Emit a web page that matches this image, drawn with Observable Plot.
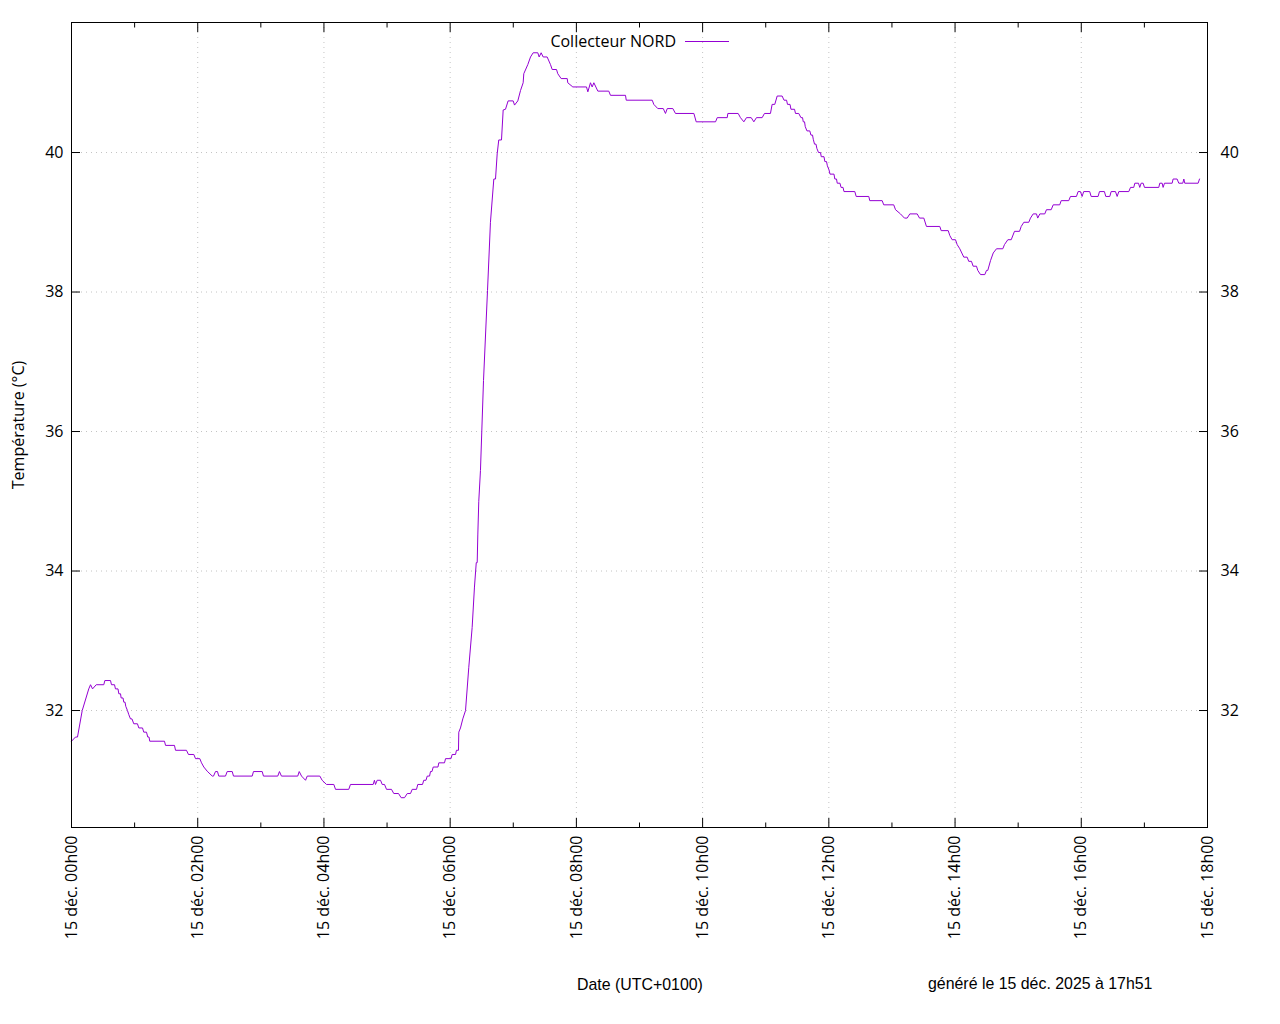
<!DOCTYPE html>
<html>
<head>
<meta charset="utf-8">
<script src="https://cdn.jsdelivr.net/npm/d3@7"></script>
<script src="https://cdn.jsdelivr.net/npm/@observablehq/plot@0.6"></script>
<style>
  html, body { margin: 0; padding: 0; background: white; }
  #wrap { position: relative; width: 1280px; height: 1024px; }
  .txt { position: absolute; white-space: nowrap; color: #000; }
  .foot { font-family: "Liberation Sans", Arial, sans-serif; font-size: 15.9px; }
  .leg { font-family: "Open Sans", sans-serif; font-size: 16px; }
</style>
</head>
<body>
<div id="wrap"></div>
<script>
// Time in minutes since 15 déc. 00h00 (UTC+0100)
const minutes = [
  0, 3.8, 5.7, 10.2, 16.4, 18.1, 20, 23.5, 30.7, 31.7,
  37.1, 38, 40.9, 41.8, 44.2, 45, 46.6, 47.2, 49, 49.7, 50.9, 51.6, 53.2, 54.5, 56.1, 57.5, 59.2, 62.7, 64, 67.5, 68.7, 71.3, 72.5, 73.7, 74.4,
  88.4, 89.4, 97.9, 98.9, 109.3, 111.2, 116.3, 117.9, 122, 123.6, 125.8, 129, 133.8, 135, 136.9, 138.8, 140, 146.4,
  148, 152.8, 154, 171.8, 173, 181.3, 182.5, 196.1, 197.7, 199.6, 215.1, 216.5, 218.7, 222.5, 224.1, 236.1, 238.3, 242.4, 249.4, 251,
  263.6, 265.2, 286.8, 288, 289, 290.6, 293.8,
  295.4, 297.6, 299.5, 304.2, 306.4, 310.9, 313.4, 316.6, 319.2, 322.3, 323.9, 328, 329.2, 333.7, 334.9, 337, 338.2, 340.4, 341.3, 342.7,
  343.9, 348.4, 349.2, 354.6, 355.6, 360.8, 361.9, 365.1, 366, 367.9,
  368.2, 369.8, 372, 374.6, 377.7, 380.9, 383.1, 384.8, 385.7, 386.3, 387.2, 388.8, 391.7, 395.5, 398.3, 401.5,
  403.1, 404.7, 406.2, 408.8, 410.4, 412.6, 415.1, 419.9, 421.2, 424.3, 426.9, 429.4, 430, 433.8, 436.4, 438.9, 443.3, 444.6, 446.5, 448.4,
  452.2, 455.4, 457, 461.1, 462.3, 465.5, 471.3, 471.8, 476.6, 489.6, 490.9, 493.4, 495, 496.6, 500.4, 510.8, 512.4, 526.7, 527.4, 552.1,
  553.6, 557.4, 562.6, 564.7, 566.4, 571.7, 574.2, 591.7, 593.9, 612.3, 613.9, 623.4, 624, 633.8, 636, 639.2, 641.7, 646.2, 648.7, 651.2,
  656.6, 658.8, 664.5, 666.1, 668.6, 670.9,
  675.6, 677.4, 679.8, 680.7, 683.1, 684, 687.4, 688.3,
  691.4, 693.5, 695, 695.7, 696.9, 697.6, 699.2, 701.9, 703, 704.5, 705.2, 706.4, 707.8, 708.6, 710.2, 712.1, 712.8, 715.4, 716.2, 717.8,
  718.6, 720.2, 721.1, 724.9, 725.7, 727.3, 728, 730.6, 731.6, 733.5, 734.4,
  744.7, 746, 758, 758.9, 770.7, 772.2, 781.7, 783.4, 788.1, 791.9, 794.5, 797, 804, 806.2, 810.3, 812.8, 825.5,
  826.8, 833.5, 835, 837.2, 840.4, 842, 844.5, 848.3, 851.5, 853, 855.6, 857.2, 860.4, 861.6, 864.2, 868.3, 869.9, 871.1, 873.7, 876.3,
  879.4, 885.4, 887, 890.2, 893.4, 896.5, 901.3, 902.9, 905.4, 910.1, 911.7, 914.3, 917.4, 918.6, 920.6, 925.3, 926.9, 931.4, 933.3, 939.5,
  940.9, 948.1, 949.7, 955.4, 957, 959.2, 960.8, 962.3, 968, 969.4, 976, 977.3, 982, 983.3, 987.1, 988.4, 992.5, 994.1, 995.7, 1005.2,
  1006.8, 1009.9, 1010.9, 1014.4, 1015.6, 1016.9, 1018.8, 1020.1, 1033.7, 1034.6, 1036.9, 1037.8, 1039.1, 1046.4, 1047.3, 1051.1, 1052.7, 1056.5, 1057.5, 1058.4,
  1071.1, 1072.4
];
const temps = [
  31.56, 31.62, 31.62, 32.0, 32.31, 32.37, 32.31, 32.37, 32.37, 32.43,
  32.43, 32.37, 32.37, 32.31, 32.31, 32.24, 32.24, 32.18, 32.18, 32.12, 32.12, 32.06, 32.0, 31.94, 31.88, 31.88, 31.81, 31.81, 31.75, 31.75, 31.69, 31.69, 31.62, 31.62, 31.56,
  31.56, 31.5, 31.5, 31.43, 31.43, 31.37, 31.37, 31.31, 31.31, 31.25, 31.19, 31.13, 31.06, 31.06, 31.125, 31.125, 31.06, 31.06,
  31.125, 31.125, 31.06, 31.06, 31.125, 31.125, 31.06, 31.06, 31.125, 31.06, 31.06, 31.125, 31.06, 31.0, 31.06, 31.06, 31.0, 30.94, 30.94, 30.87,
  30.87, 30.94, 30.94, 31.0, 30.94, 31.0, 31.0,
  30.94, 30.94, 30.87, 30.87, 30.81, 30.81, 30.75, 30.75, 30.81, 30.81, 30.87, 30.87, 30.94, 30.94, 31.0, 31.0, 31.06, 31.06, 31.125, 31.125,
  31.19, 31.19, 31.25, 31.25, 31.31, 31.31, 31.37, 31.37, 31.43, 31.43,
  31.69, 31.75, 31.88, 32.0, 32.62, 33.19, 33.77, 34.12, 34.12, 34.53, 35.0, 35.44, 36.73, 38.02, 39.0, 39.62,
  39.62, 39.98, 40.18, 40.18, 40.61, 40.62, 40.74, 40.74, 40.68, 40.74, 40.89, 41.0, 41.13, 41.26, 41.37, 41.43, 41.43, 41.37, 41.43, 41.37,
  41.37, 41.26, 41.19, 41.19, 41.13, 41.06, 41.06, 41.0, 40.94, 40.94, 40.87, 41.0, 40.94, 41.0, 40.88, 40.88, 40.82, 40.82, 40.75, 40.75,
  40.69, 40.63, 40.63, 40.56, 40.63, 40.63, 40.56, 40.56, 40.44, 40.44, 40.5, 40.5, 40.56, 40.56, 40.5, 40.44, 40.5, 40.5, 40.44, 40.5,
  40.5, 40.56, 40.56, 40.69, 40.69, 40.81,
  40.81, 40.75, 40.75, 40.69, 40.69, 40.62, 40.62, 40.56,
  40.56, 40.5, 40.5, 40.44, 40.44, 40.37, 40.31, 40.31, 40.25, 40.25, 40.19, 40.12, 40.12, 40.06, 40.0, 40.0, 39.94, 39.94, 39.87, 39.87,
  39.81, 39.75, 39.69, 39.69, 39.62, 39.62, 39.56, 39.56, 39.5, 39.5, 39.44,
  39.44, 39.37, 39.37, 39.31, 39.31, 39.25, 39.25, 39.18, 39.12, 39.06, 39.06, 39.12, 39.12, 39.06, 39.06, 38.94, 38.94,
  38.88, 38.88, 38.81, 38.75, 38.75, 38.68, 38.62, 38.5, 38.5, 38.44, 38.44, 38.37, 38.37, 38.31, 38.25, 38.25, 38.31, 38.31, 38.45, 38.56,
  38.62, 38.62, 38.68, 38.75, 38.75, 38.87, 38.87, 38.94, 39.0, 39.0, 39.06, 39.12, 39.12, 39.06, 39.12, 39.12, 39.18, 39.18, 39.25, 39.25,
  39.31, 39.31, 39.37, 39.37, 39.44, 39.44, 39.37, 39.44, 39.44, 39.37, 39.37, 39.44, 39.44, 39.37, 39.37, 39.44, 39.44, 39.37, 39.44, 39.44,
  39.5, 39.5, 39.56, 39.56, 39.5, 39.56, 39.56, 39.5, 39.5, 39.56, 39.56, 39.5, 39.56, 39.56, 39.62, 39.62, 39.56, 39.56, 39.62, 39.56,
  39.56, 39.62
];
const majorHours = [0, 2, 4, 6, 8, 10, 12, 14, 16, 18];
const minorHours = [1, 3, 5, 7, 9, 11, 13, 15, 17];
const xTickLabels = ["15 déc. 00h00", "15 déc. 02h00", "15 déc. 04h00", "15 déc. 06h00", "15 déc. 08h00",
  "15 déc. 10h00", "15 déc. 12h00", "15 déc. 14h00", "15 déc. 16h00", "15 déc. 18h00"];
const yTicks = [32, 34, 36, 38, 40];
const seriesName = "Collecteur NORD";
const yLabel = "Température (°C)";
const xLabel = "Date (UTC+0100)";
const footNote = "généré le 15 déc. 2025 à 17h51";

const data = minutes.map((m, i) => ({h: m / 60, t: temps[i]}));
const lineColor = "#9400d3";
const gridColor = "#c4c4c4";

const chart = Plot.plot({
  width: 1280,
  height: 1024,
  marginLeft: 71,
  marginRight: 73,
  marginTop: 22,
  marginBottom: 197,
  style: {fontFamily: "'Open Sans', sans-serif", fontSize: "16px", background: "white", color: "black"},
  x: {type: "linear", domain: [0, 18]},
  y: {domain: [30.323, 41.864]},
  marks: [
    Plot.gridX(majorHours, {stroke: gridColor, strokeOpacity: 1, strokeDasharray: "1,4"}),
    Plot.gridY(yTicks, {stroke: gridColor, strokeOpacity: 1, strokeDasharray: "1,4"}),
    Plot.line(data, {x: "h", y: "t", stroke: lineColor, strokeWidth: 1}),
    Plot.axisX({anchor: "bottom", ticks: majorHours, tickSize: -9, tickRotate: -90, tickPadding: 17,
      tickFormat: (d) => xTickLabels[majorHours.indexOf(d)], label: null}),
    Plot.axisX({anchor: "bottom", ticks: minorHours, tickSize: -4.5, fill: "none", label: null}),
    Plot.axisX({anchor: "top", ticks: majorHours, tickSize: -9, fill: "none", label: null}),
    Plot.axisX({anchor: "top", ticks: minorHours, tickSize: -4.5, fill: "none", label: null}),
    Plot.axisY({anchor: "left", ticks: yTicks, tickSize: -9, tickPadding: 17, tickFormat: (d) => String(d),
      label: yLabel, labelAnchor: "center", labelArrow: "none", labelOffset: 59}),
    Plot.axisY({anchor: "right", ticks: yTicks, tickSize: -9, tickPadding: 22, tickFormat: (d) => String(d), label: null}),
    Plot.frame({stroke: "black"})
  ]
});

const wrap = document.getElementById("wrap");
wrap.appendChild(chart);

// Legend (inside plot area, top)
const leg = document.createElement("div");
leg.className = "txt leg";
leg.textContent = seriesName;
leg.style.right = (1280 - 676) + "px";
leg.style.top = "30px";
wrap.appendChild(leg);
const legLine = document.createElement("div");
legLine.style.cssText = `position:absolute;left:685px;top:41px;width:44px;height:0;border-top:1px solid ${lineColor};`;
wrap.appendChild(legLine);

// Bottom texts
const xl = document.createElement("div");
xl.className = "txt foot";
xl.textContent = xLabel;
xl.style.left = "577px";
xl.style.top = "976px";
wrap.appendChild(xl);
const fn = document.createElement("div");
fn.className = "txt foot";
fn.textContent = footNote;
fn.style.left = "928px";
fn.style.top = "975px";
wrap.appendChild(fn);
</script>
</body>
</html>
